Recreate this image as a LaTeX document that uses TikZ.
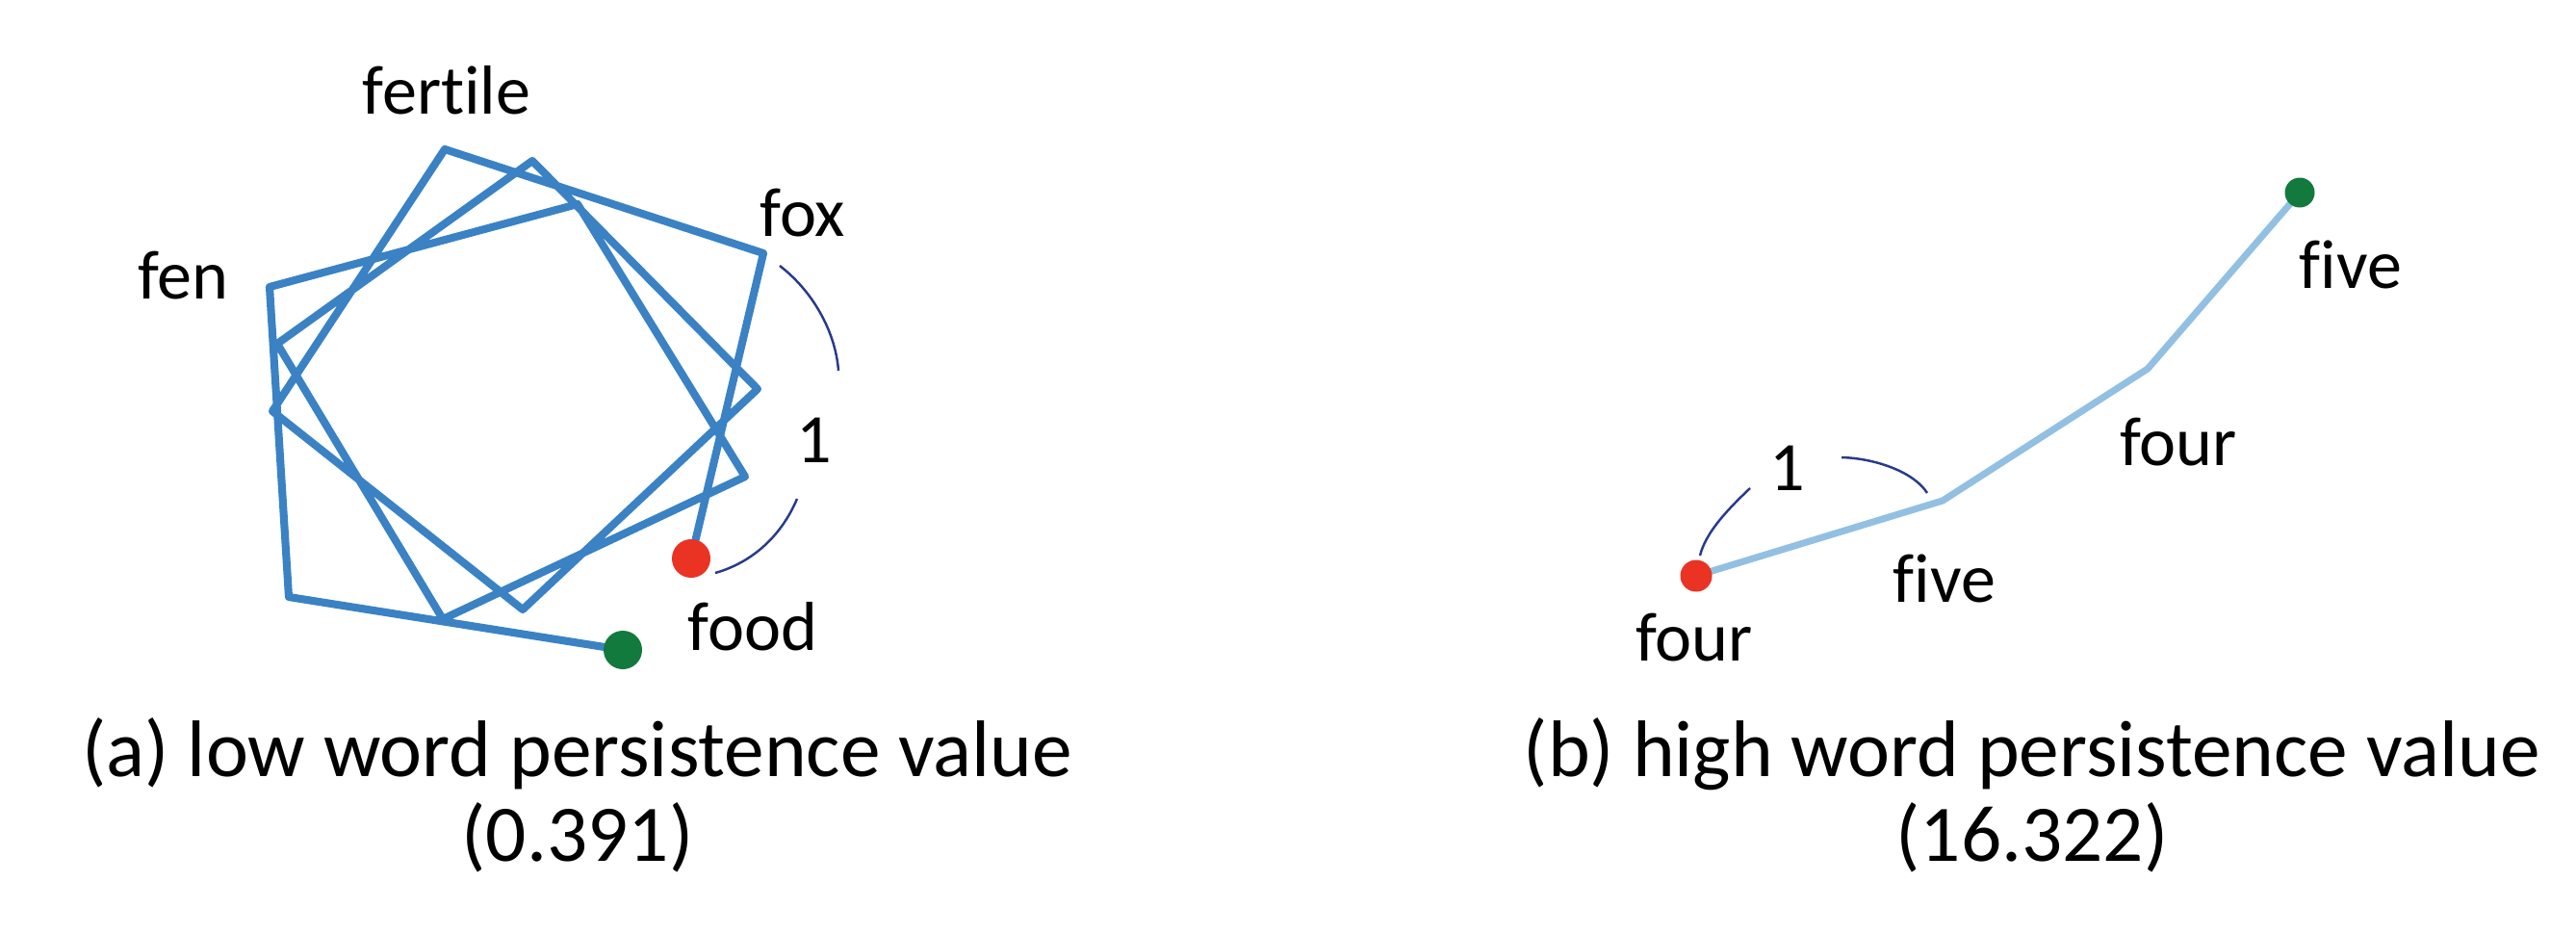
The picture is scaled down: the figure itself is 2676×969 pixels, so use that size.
\documentclass[tikz,border=0pt]{standalone}
\usepackage{fontspec}
\setmainfont{Carlito}[Ligatures=NoCommon]
\usetikzlibrary{positioning,calc}
\definecolor{walkblue}{RGB}{58,130,196}
\definecolor{walklight}{RGB}{146,192,226}
\definecolor{arcblue}{RGB}{40,58,140}
\definecolor{dotred}{RGB}{234,51,35}
\definecolor{dotgreen}{RGB}{18,122,60}

\begin{document}
\begin{tikzpicture}[x=0.01cm, y=-0.01cm,
  walk/.style={draw=walkblue,line width=2.3pt,line join=round},
  walkb/.style={draw=walklight,line width=2pt,line join=round},
  arcl/.style={draw=arcblue,line width=0.7pt},
  lbl/.style={font=\fontsize{20.5}{24}\selectfont,inner sep=0pt},
  captxt/.style={font=\fontsize{23.7}{26}\selectfont,inner sep=0pt},
  dot/.style={circle,inner sep=0pt,minimum size=0.4cm}]
  \useasboundingbox (0,0) rectangle (2676,969);
  % (a) word walk winding round three times
  \coordinate (w0) at (718,580);  \coordinate (w1) at (793,263);
  \coordinate (w2) at (462,155);  \coordinate (w3) at (283,427);
  \coordinate (w4) at (543,633);  \coordinate (w5) at (787,404);
  \coordinate (w6) at (553,167);  \coordinate (w7) at (288,357);
  \coordinate (w8) at (460,643);  \coordinate (w9) at (774,495);
  \coordinate (w10) at (600,212); \coordinate (w11) at (280,298);
  \coordinate (w12) at (300,620); \coordinate (w13) at (647,675);
  \draw[walk] (w0) \foreach \i in {1,...,13}{ -- (w\i)};
  \node[dot,fill=dotred](food) at (w0){};
  \node[dot,fill=dotgreen](wend) at (w13){};
  \node[lbl](fertile) at (464,94){fertile};
  \node[lbl](fen) at (190,286){fen};
  \node[lbl](fox) at (834,221){fox};
  \node[lbl](foodlbl) at (782,651){food};
  \node[lbl](onea) at (846,457){1};
  \draw[arcl] (810,276) .. controls (845,303) and (868,345) .. (871,385);
  \draw[arcl] (828,518) .. controls (812,556) and (782,584) .. (743,595);
  % (b) straight walk
  \coordinate (r0) at (1762,598); \coordinate (r1) at (2018,520);
  \coordinate (r2) at (2231,383); \coordinate (r3) at (2389,200);
  \draw[walkb] (r0) \foreach \i in {1,2,3}{ -- (r\i)};
  \node[dot,fill=dotred,minimum size=0.33cm](four) at (r0){};
  \node[dot,fill=dotgreen,minimum size=0.31cm](bend) at (r3){};
  \node[lbl](fiveb) at (2442,275){five};
  \node[lbl](fourm) at (2263,459){four};
  \node[lbl](fivel) at (2020,601){five};
  \node[lbl](fourb) at (1760,662){four};
  \node[lbl](oneb) at (1857,486){1};
  \draw[arcl] (1818,507) .. controls (1797,527) and (1772,552) .. (1766,577);
  \draw[arcl] (1913,475) .. controls (1948,476) and (1988,490) .. (2002,512);
  % captions
  \node[captxt](capa) at (600,783){(a) low word persistence value};
  \node[captxt](vala) at (600,870){(0.391)};
  \node[captxt](capb) at (2111,783){(b) high word persistence value};
  \node[captxt](valb) at (2111,870){(16.322)};
\end{tikzpicture}
\end{document}
